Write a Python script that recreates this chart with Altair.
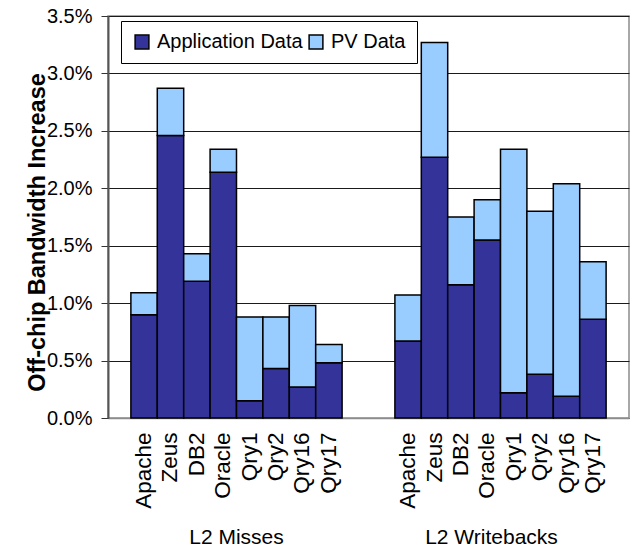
import altair as alt
import pandas as pd

# Benchmarks shown in each group
workloads = ["Apache", "Zeus", "DB2", "Oracle", "Qry1", "Qry2", "Qry16", "Qry17"]
groups = ["L2 Misses", "L2 Writebacks"]
series = ["Application Data", "PV Data"]

# Off-chip bandwidth increase, in percent
misses_app = [0.90, 2.46, 1.19, 2.14, 0.15, 0.43, 0.27, 0.48]
misses_pv = [0.19, 0.41, 0.24, 0.20, 0.73, 0.45, 0.71, 0.16]
writebacks_app = [0.67, 2.27, 1.16, 1.55, 0.22, 0.38, 0.19, 0.86]
writebacks_pv = [0.40, 1.00, 0.59, 0.35, 2.12, 1.42, 1.85, 0.50]

y_ticks = [0.0, 0.005, 0.01, 0.015, 0.02, 0.025, 0.03, 0.035]

rows = []
for group, app, pv in [(groups[0], misses_app, misses_pv), (groups[1], writebacks_app, writebacks_pv)]:
    for name, a, p in zip(workloads, app, pv):
        key = f"{group}:{name}"
        rows.append({"key": key, "series": series[0], "value": a / 100, "order": 0})
        rows.append({"key": key, "series": series[1], "value": p / 100, "order": 1})
df = pd.DataFrame(rows)

# two empty slots separate the groups on the band scale
slot_domain = [f"{groups[0]}:{w}" for w in workloads] + ["gap1", "gap2"] + [f"{groups[1]}:{w}" for w in workloads]

x_scale = alt.Scale(domain=slot_domain, paddingInner=0, paddingOuter=0.867)

bars = alt.Chart(df).mark_bar(stroke="black", strokeWidth=1.5).encode(
    x=alt.X(
        "key:N",
        scale=x_scale,
        sort=slot_domain,
        axis=alt.Axis(
            title=None,
            labelExpr="split(datum.label, ':')[1] || ''",
            labelAngle=270,
            labelAlign="right",
            labelBaseline="middle",
            labelFontSize=22.5,
            labelColor="black",
            labelPadding=14,
            ticks=False,
            tickSize=0,
            domainColor="#8c8c8c",
            domainWidth=1.5,
            grid=False,
        ),
    ),
    y=alt.Y(
        "value:Q",
        stack="zero",
        scale=alt.Scale(domain=[0, 0.035], nice=False),
        axis=alt.Axis(
            title="Off-chip Bandwidth Increase",
            titleFontSize=23.5,
            titleFontWeight="bold",
            titleColor="black",
            titleAngle=270,
            titleX=-71,
            titleY=216,
            titleAlign="center",
            titleBaseline="middle",
            values=y_ticks,
            format=".1%",
            labelFontSize=20,
            labelColor="black",
            labelPadding=9,
            tickSize=7,
            tickColor="#333333",
            domainColor="#555555",
            domainWidth=2,
            grid=True,
            gridColor="#1a1a1a",
            gridWidth=1,
        ),
    ),
    color=alt.Color(
        "series:N",
        scale=alt.Scale(domain=series, range=["#333399", "#99CCFF"]),
        legend=alt.Legend(
            title=None,
            orient="none",
            legendX=13,
            legendY=5,
            direction="horizontal",
            strokeColor="black",
            fillColor="white",
            padding=11,
            symbolType="square",
            symbolSize=190,
            symbolStrokeColor="black",
            symbolStrokeWidth=1.5,
            symbolOpacity=1,
            labelFontSize=20,
            labelColor="black",
            labelOffset=5,
            columnPadding=3,
        ),
    ),
    order=alt.Order("order:Q"),
)

label_df = pd.DataFrame({"key": [f"{groups[0]}:Qry1", f"{groups[1]}:Qry1"], "text": groups})

group_left = alt.Chart(label_df.iloc[[0]]).mark_text(
    fontSize=21, color="black", baseline="middle", align="center"
).encode(
    x=alt.X("key:N", scale=x_scale, sort=slot_domain, bandPosition=0),
    y=alt.value(522),
    text="text:N",
)

group_right = alt.Chart(label_df.iloc[[1]]).mark_text(
    fontSize=21, color="black", baseline="middle", align="center", dx=-9
).encode(
    x=alt.X("key:N", scale=x_scale, sort=slot_domain, bandPosition=0),
    y=alt.value(522),
    text="text:N",
)

chart = (
    alt.layer(bars, group_left, group_right)
    .properties(
        width=521,
        height=402,
        autosize=alt.AutoSizeParams(type="none"),
        padding={"left": 108, "top": 16, "right": 4, "bottom": 135},
    )
    .configure(font="Liberation Sans")
    .configure_view(stroke="#8c8c8c", strokeWidth=1.5)
    .configure_axis(labelFont="Liberation Sans", titleFont="Liberation Sans")
)

chart.save("out.html", embed_options={"renderer": "svg", "actions": False})
